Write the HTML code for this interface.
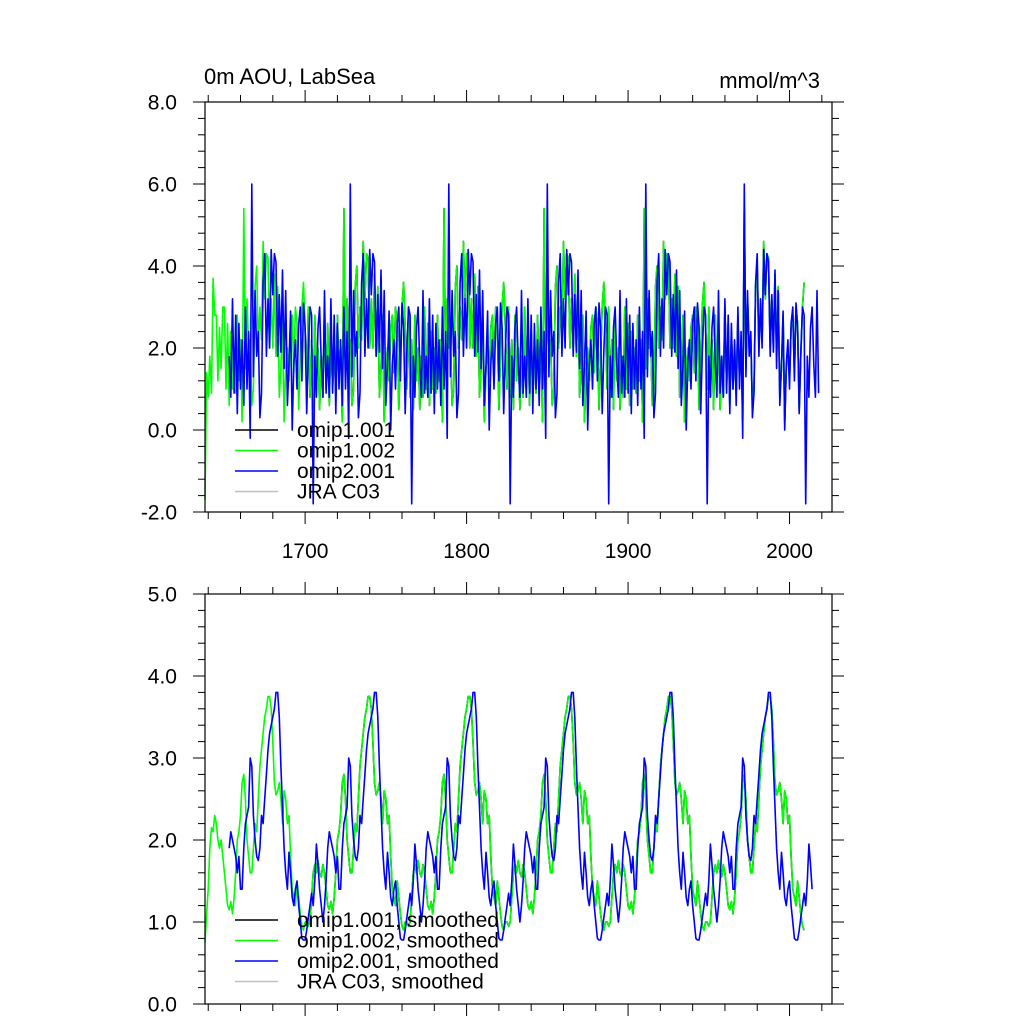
<!DOCTYPE html>
<html><head><meta charset="utf-8">
<style>
html,body{margin:0;padding:0;background:#fff;}
svg{display:block;font-family:"Liberation Sans",Arial,sans-serif;}
</style></head>
<body>
<svg id="chart" width="1024" height="1024" viewBox="0 0 1024 1024" xmlns="http://www.w3.org/2000/svg">
  <text x="204" y="84" font-size="22">0m AOU, LabSea</text>
  <text x="820" y="88" font-size="22" text-anchor="end">mmol/m^3</text>
  <g id="top"></g>
  <g id="bot"></g>
</svg>
<script>
// ---- data (annual values) ----
// omip1 forcing cycle 1948-2009 (raw)
const omip1Cycle = [2.5,1.0,3.0,0.8,2.2,0.5,2.8,1.2,2.0,0.5,1.8,0.8,3.0,1.0,2.6,0.6,2.4,1.0,2.0,0.9,2.8,1.2,2.2,0.2,5.4,1.5,3.2,2.0,2.2,0.6,1.0,3.5,4.0,2.0,3.0,2.2,4.6,3.2,4.3,4.2,2.0,3.2,2.0,3.8,1.8,3.5,0.8,1.5,2.8,0.2,1.5,2.0,1.2,2.5,2.8,1.4,3.0,2.6,0.5,1.8,3.0,3.6];
// omip2 forcing cycle 1958-2018 (raw)
const omip2Cycle = [1.8,0.8,3.2,0.9,2.8,0.4,2.6,1.0,2.2,0.6,3.0,1.0,2.4,-0.2,6.0,1.3,3.4,1.8,2.4,0.3,0.9,3.6,4.3,1.8,3.2,2.0,4.4,3.3,4.3,4.1,1.8,3.3,1.9,3.9,1.5,3.4,0.6,1.6,2.9,0.0,1.6,2.2,1.0,2.6,3.0,1.2,3.1,2.5,0.4,1.9,3.0,2.8,-1.8,1.8,0.8,2.5,3.0,1.6,0.8,3.4,0.9];
const omip1Spinup = [-1.7,1.4,0.8,1.8,0.9,3.7,2.8,2.8,1.2,2.5,1.5,3.0];
// smoothed cycles
const omip1SmoothCycle = [1.0,1.0,0.95,1.0,1.3,1.6,1.7,1.6,1.75,1.6,1.55,1.7,1.6,1.4,1.2,1.15,1.25,1.1,1.3,1.6,2.0,2.1,2.3,2.7,2.8,2.5,2.0,1.8,1.6,1.6,1.9,2.2,2.1,2.5,2.9,3.1,3.3,3.5,3.6,3.75,3.75,3.6,3.2,2.7,2.55,2.6,2.7,2.5,2.2,2.6,2.5,2.2,2.3,1.8,1.4,1.3,1.2,1.5,1.3,1.1,0.95,0.9];
const omip2SmoothCycle = [1.9,2.1,2.0,1.9,1.8,1.6,1.8,1.4,1.4,1.9,2.2,2.3,2.4,3.0,2.9,2.3,2.0,1.8,1.75,1.9,2.3,2.2,2.5,2.8,3.1,3.3,3.4,3.5,3.6,3.8,3.8,3.5,2.9,2.4,1.9,1.6,1.4,1.85,1.6,1.3,1.2,1.4,1.5,1.2,1.0,0.8,0.78,0.78,0.9,1.05,1.2,1.35,1.2,1.5,1.95,1.7,1.4,1.2,1.0,1.2,1.5];
const omip1SmoothSpinup = [0.75,1.1,1.4,1.9,2.15,2.1,2.3,2.2,2.0,1.9,2.0,1.8];
const topYTicks = [-2,0,2,4,6,8];
const topYLabels = ["-2.0","0.0","2.0","4.0","6.0","8.0"];
const botYTicks = [0,1,2,3,4,5];
const botYLabels = ["0.0","1.0","2.0","3.0","4.0","5.0"];
const xTicks = [1700,1800,1900,2000];
const xLabels = ["1700","1800","1900","2000"];
const legendTop = ["omip1.001","omip1.002","omip2.001","JRA C03"];
const legendBot = ["omip1.001, smoothed","omip1.002, smoothed","omip2.001, smoothed","JRA C03, smoothed"];
const colors = ["#000000","#00ff00","#0000ff","#c0c0c0"];

// ---- build series ----
function buildSeries(cycle, start, nCycles, spinup, endYear, from){
  const pts=[];
  for(let c=0;c<nCycles;c++){
    for(let i=0;i<cycle.length;i++){
      const k=c*cycle.length+i;
      const yr=start+k;
      if(yr>endYear) continue;
      if(from!==undefined && yr<from) continue;
      let v=cycle[i];
      if(spinup && k<spinup.length) v=spinup[k];
      pts.push([yr,v]);
    }
  }
  return pts;
}
const X0=1638, X1=2026.3, PL=205, PR=832;
const xs = yr => PL+(yr-X0)/(X1-X0)*(PR-PL);
const NS="http://www.w3.org/2000/svg";
function el(tag,attrs,parent){const e=document.createElementNS(NS,tag);for(const k in attrs)e.setAttribute(k,attrs[k]);parent.appendChild(e);return e;}

function panel(g, top, bottom, ymin, ymax, yTicks, yLabels, minorStep, showXLabels, seriesList, legend, legY0){
  const ys = v => bottom-(v-ymin)/(ymax-ymin)*(bottom-top);
  seriesList.forEach((s,si)=>{
    if(!s.pts.length) return;
    const d=s.pts.map((p,i)=>(i?'L':'M')+xs(p[0]).toFixed(1)+' '+ys(p[1]).toFixed(1)).join(' ');
    const p=el('path',{d:d,fill:'none',stroke:s.color,'stroke-width':1.6,'stroke-linejoin':'round'},g);
    
    
  });
  const fr=el('rect',{x:PL,y:top,width:PR-PL,height:bottom-top,fill:'none',stroke:'#000','stroke-width':1.2},g);
  
  
  for(let v=ymin; v<=ymax+1e-6; v+=minorStep){
    const y=ys(v);
    const major=yTicks.some(t=>Math.abs(t-v)<1e-6);
    const L=major?12:7;
    el('line',{x1:PL-L,y1:y,x2:PL,y2:y,stroke:'#000','stroke-width':1},g);
    el('line',{x1:PR,y1:y,x2:PR+L,y2:y,stroke:'#000','stroke-width':1},g);
  }
  yTicks.forEach((t,i)=>{
    const tx=el('text',{x:177,y:ys(t)+7.5,'font-size':21,'text-anchor':'end'},g);
    tx.textContent=yLabels[i];
    
    
  });
  for(let yr=1640; yr<=2020; yr+=20){
    const x=xs(yr);
    const major=xTicks.includes(yr);
    const L=major?12:7;
    el('line',{x1:x,y1:top-L,x2:x,y2:top,stroke:'#000','stroke-width':1},g);
    el('line',{x1:x,y1:bottom,x2:x,y2:bottom+L,stroke:'#000','stroke-width':1},g);
  }
  if(showXLabels){
    xTicks.forEach((t,i)=>{
      const tx=el('text',{x:xs(t),y:bottom+46,'font-size':21,'text-anchor':'middle'},g);
      tx.textContent=xLabels[i];
      
      
    });
  }
  legend.forEach((name,i)=>{
    const y=legY0+i*20.5;
    const ln=el('line',{x1:235,y1:y,x2:278,y2:y,stroke:colors[i],'stroke-width':1.6},g);
    
    
    const tx=el('text',{x:297,y:y+7,'font-size':21},g);
    tx.textContent=name;
    
    
  });
}

const topSeries=[
  {name:'omip1-001-line',color:colors[0],pts:buildSeries(omip1Cycle,1638,6,null,2009,1700)},
  {name:'omip1-002-line',color:colors[1],pts:buildSeries(omip1Cycle,1638,6,omip1Spinup,2009)},
  {name:'omip2-001-line',color:colors[2],pts:buildSeries(omip2Cycle,1653,6,null,2018)}
];
const botSeries=[
  {name:'omip1-001-smoothed-line',color:colors[0],pts:buildSeries(omip1SmoothCycle,1638,6,null,2009,1700)},
  {name:'omip1-002-smoothed-line',color:colors[1],pts:buildSeries(omip1SmoothCycle,1638,6,omip1SmoothSpinup,2009)},
  {name:'omip2-001-smoothed-line',color:colors[2],pts:buildSeries(omip2SmoothCycle,1653,6,null,2014)}
];
panel(document.getElementById('top'),102,512,-2,8,topYTicks,topYLabels,0.4,true,topSeries,legendTop,430);
panel(document.getElementById('bot'),594,1004,0,5,botYTicks,botYLabels,0.2,false,botSeries,legendBot,920);
</script>
</body></html>
